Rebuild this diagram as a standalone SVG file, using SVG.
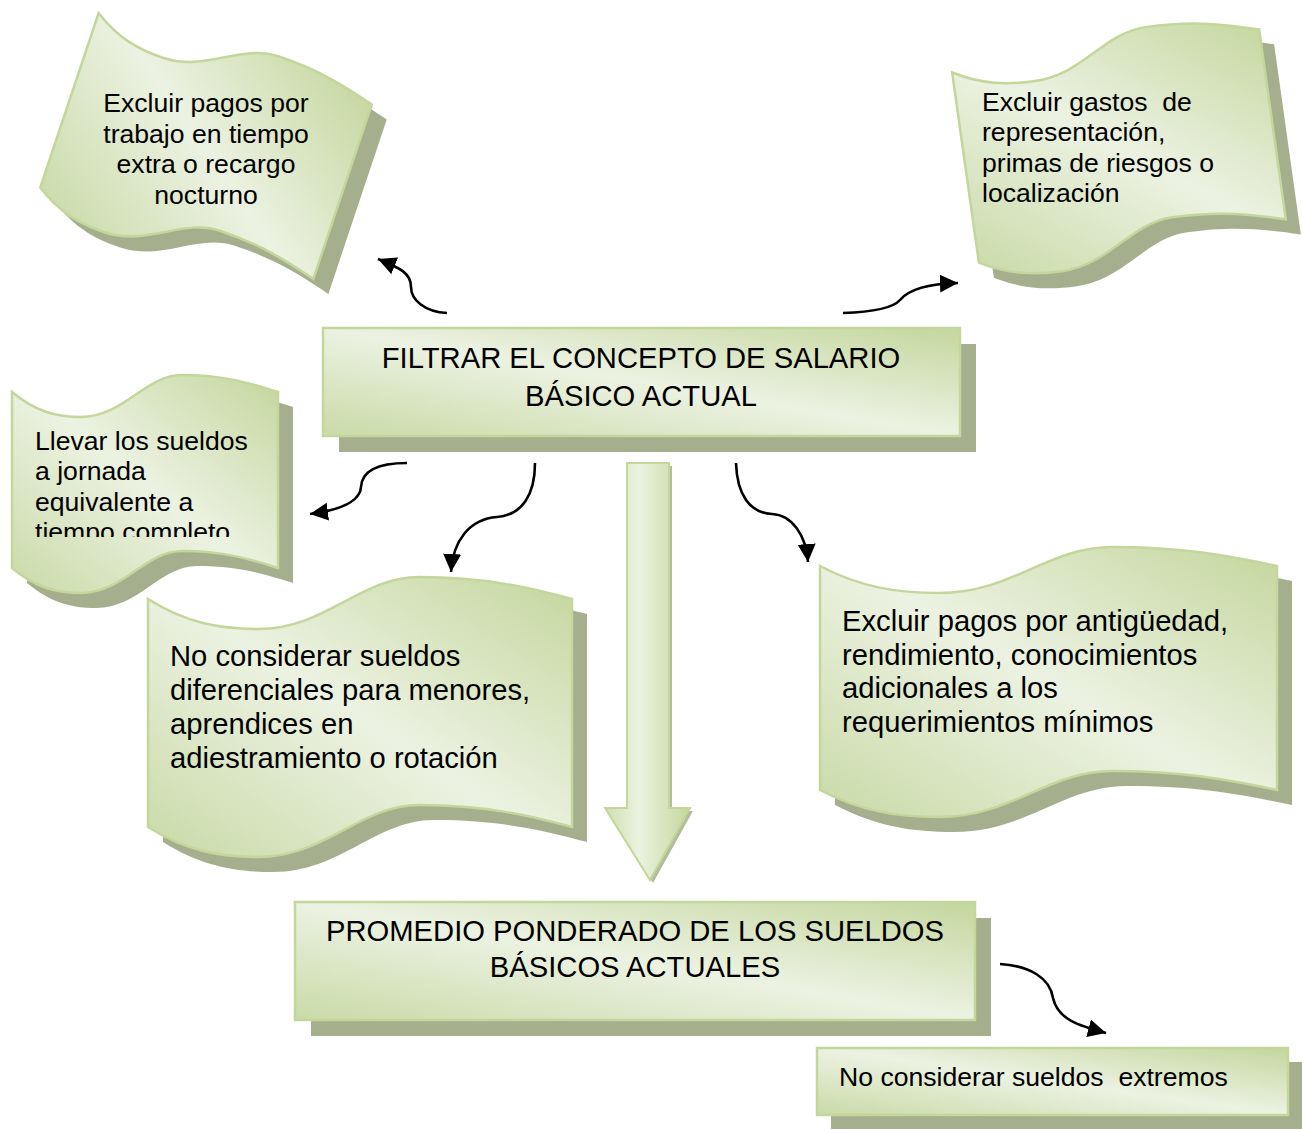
<svg xmlns="http://www.w3.org/2000/svg" width="1302" height="1130" viewBox="0 0 1302 1130">
<defs>
<linearGradient id="g" x1="1" y1="0" x2="0" y2="1">
<stop offset="0" stop-color="#c4d69d"/>
<stop offset="0.5" stop-color="#ecf2e2"/>
<stop offset="1" stop-color="#c9daa7"/>
</linearGradient>
<linearGradient id="ga" x1="0" y1="0" x2="1" y2="0">
<stop offset="0" stop-color="#cfdfb1"/>
<stop offset="0.4" stop-color="#ebf2df"/>
<stop offset="1" stop-color="#c4d79e"/>
</linearGradient>
<marker id="ah" markerUnits="userSpaceOnUse" markerWidth="22" markerHeight="20" refX="18" refY="9" orient="auto" viewBox="0 0 22 20">
<path d="M0,0 L18,9 L0,18 Z" fill="#000"/>
</marker>
<clipPath id="clipC"><rect x="0" y="380" width="300" height="157"/></clipPath>
<path id="wA" d="M0,0 C26,17.6 49,22 75,22 C121,22 144,-16 184,-16 C230,-16 259,-8 288,0 L288,184 C259,176 230,168 184,168 C144,168 121,206 75,206 C49,206 26,201.6 0,184 Z"/>
<path id="wB" d="M0,0 C28,16 53,20 81,20 C130,20 155,-18 198,-18 C248,-18 279,-9 310,0 L310,192 C279,183 248,174 198,174 C155,174 130,212 81,212 C53,212 28,208 0,192 Z"/>
<path id="wC" d="M0,0 C24,20 45,25 69,25 C112,25 133,-17 170,-17 C213,-17 239,-8.5 266,0 L266,176 C239,167.5 213,159 170,159 C133,159 112,201 69,201 C45,201 24,196 0,176 Z"/>
<path id="wD" d="M0,0 C38,24 72,30 110,30 C178,30 212,-22 271,-22 C339,-22 382,-11 424,0 L424,228 C382,217 339,206 271,206 C212,206 178,258 110,258 C72,258 38,252 0,228 Z"/>
<path id="wE" d="M0,0 C41,21.6 78,27 119,27 C192,27 228,-19 292,-19 C366,-19 411,-9.5 457,0 L457,224 C411,214.5 366,205 292,205 C228,205 192,251 119,251 C78,251 41,245.6 0,224 Z"/>
</defs>
<style>
.sh{fill:#a5af8e}
.sf{fill:url(#g);stroke:#c3d69b;stroke-width:2.5}
.t{font-family:"Liberation Sans",Arial,sans-serif;fill:#000;white-space:pre}
.s{font-size:26.6px}
.l{font-size:29.2px}
.c{fill:none;stroke:#000;stroke-width:2.6;marker-end:url(#ah)}
</style>

<g id="node-excluir-tiempo-extra">
<g transform="translate(15,15) translate(206,146) rotate(18.5) translate(-144,-92)">
<use href="#wA" class="sh"/>
</g>
<g transform="translate(206,146) rotate(18.5) translate(-144,-92)">
<use href="#wA" class="sf"/>
</g>
<text class="t s" text-anchor="middle" x="206" y="112">Excluir pagos por</text>
<text class="t s" text-anchor="middle" x="206" y="142.5">trabajo en tiempo</text>
<text class="t s" text-anchor="middle" x="206" y="173">extra o recargo</text>
<text class="t s" text-anchor="middle" x="206" y="203.5">nocturno</text>
</g>

<g id="node-excluir-gastos">
<g transform="translate(15,15) translate(1119,146) rotate(-8) translate(-155,-96)">
<use href="#wB" class="sh"/>
</g>
<g transform="translate(1119,146) rotate(-8) translate(-155,-96)">
<use href="#wB" class="sf"/>
</g>
<text class="t s" x="982" y="110.5">Excluir gastos  de</text>
<text class="t s" x="982" y="141">representación,</text>
<text class="t s" x="982" y="171.7">primas de riesgos o</text>
<text class="t s" x="982" y="202.3">localización</text>
</g>

<g id="node-filtrar">
<rect class="sh" x="339" y="344" width="637" height="108"/>
<rect class="sf" x="323" y="328" width="637" height="108"/>
<text class="t l" text-anchor="middle" x="641" y="367.5">FILTRAR EL CONCEPTO DE SALARIO</text>
<text class="t l" text-anchor="middle" x="641" y="405.5">BÁSICO ACTUAL</text>
</g>

<g id="node-llevar-sueldos">
<use href="#wC" class="sh" transform="translate(27,407)"/>
<use href="#wC" class="sf" transform="translate(12,392)"/>
<g clip-path="url(#clipC)">
<text class="t s" x="35" y="449.5">Llevar los sueldos</text>
<text class="t s" x="35" y="480">a jornada</text>
<text class="t s" x="35" y="510.7">equivalente a</text>
<text class="t s" x="35" y="541.3">tiempo completo</text>
</g>
</g>

<g id="node-no-considerar-diferenciales">
<use href="#wD" class="sh" transform="translate(163,614)"/>
<use href="#wD" class="sf" transform="translate(148,599)"/>
<text class="t l" x="170" y="665.5">No considerar sueldos</text>
<text class="t l" x="170" y="699.5">diferenciales para menores,</text>
<text class="t l" x="170" y="733.5">aprendices en</text>
<text class="t l" x="170" y="767.5">adiestramiento o rotación</text>
</g>

<g id="node-excluir-antiguedad">
<use href="#wE" class="sh" transform="translate(835,581)"/>
<use href="#wE" class="sf" transform="translate(820,566)"/>
<text class="t l" x="842" y="631">Excluir pagos por antigüedad,</text>
<text class="t l" x="842" y="664.5">rendimiento, conocimientos</text>
<text class="t l" x="842" y="698">adicionales a los</text>
<text class="t l" x="842" y="731.5">requerimientos mínimos</text>
</g>

<g id="node-flecha-abajo">
<polygon points="630,466 672,466 672,811 693,811 653,883 608,811 630,811" fill="#b3bc9b"/>
<polygon points="627,463 669,463 669,808 690,808 650,880 605,808 627,808" fill="url(#ga)" stroke="#c3d69b" stroke-width="2"/>
</g>

<g id="node-promedio">
<rect class="sh" x="311" y="918" width="680" height="118"/>
<rect class="sf" x="295" y="902" width="680" height="118"/>
<text class="t l" text-anchor="middle" x="635" y="940.5">PROMEDIO PONDERADO DE LOS SUELDOS</text>
<text class="t l" text-anchor="middle" x="635" y="976.5">BÁSICOS ACTUALES</text>
</g>

<g id="node-sueldos-extremos">
<rect class="sh" x="831" y="1062" width="471" height="67"/>
<rect class="sf" x="817" y="1048" width="471" height="67"/>
<text class="t s" x="839" y="1086">No considerar sueldos  extremos</text>
</g>

<g id="connectors">
<path class="c" d="M447,313 C425,312 411,300 411,287 C411,273 400,268 378,259"/>
<path class="c" d="M843,313 C875,312 893,308 900,300 C908,290 925,284 958,283"/>
<path class="c" d="M407,463 C380,463 362,470 361,487 C360,502 340,510 310,514"/>
<path class="c" d="M535,463 C535,495 522,515 497,517 C470,519 453,540 451,572"/>
<path class="c" d="M736,463 C737,495 750,513 772,514 C792,515 806,535 808,562"/>
<path class="c" d="M1000,964 C1030,966 1050,978 1053,998 C1058,1020 1080,1026 1106,1033"/>
</g>
</svg>
